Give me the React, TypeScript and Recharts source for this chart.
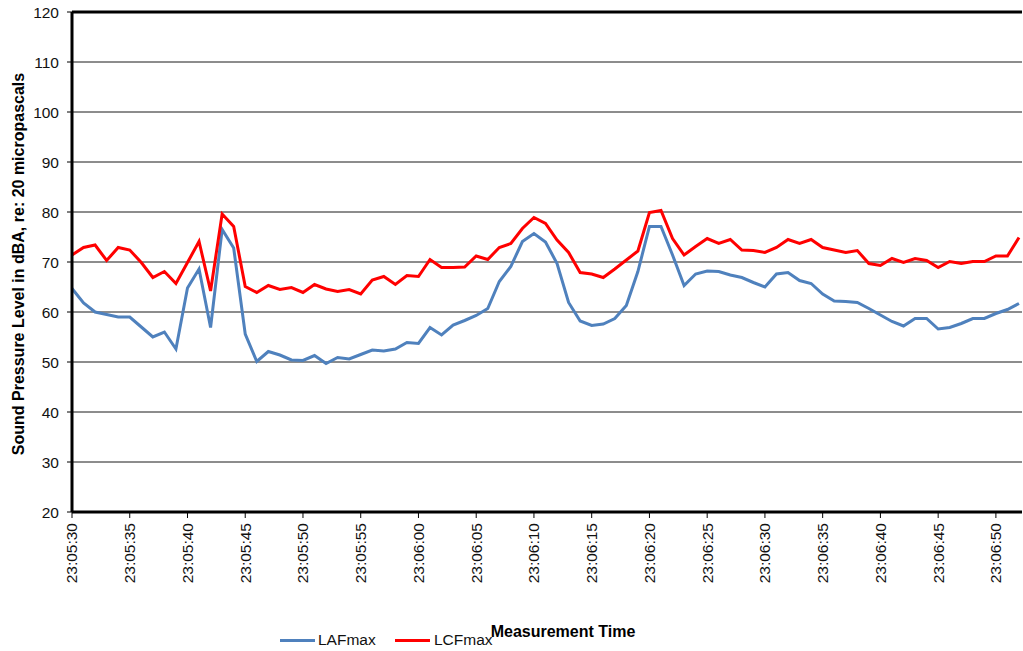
import { LineChart, Line, XAxis, YAxis, CartesianGrid, Legend, ReferenceLine } from 'recharts';

const times = [
  '23:05:30', '23:05:31', '23:05:32', '23:05:33', '23:05:34', '23:05:35', '23:05:36', '23:05:37', '23:05:38', '23:05:39',
  '23:05:40', '23:05:41', '23:05:42', '23:05:43', '23:05:44', '23:05:45', '23:05:46', '23:05:47', '23:05:48', '23:05:49',
  '23:05:50', '23:05:51', '23:05:52', '23:05:53', '23:05:54', '23:05:55', '23:05:56', '23:05:57', '23:05:58', '23:05:59',
  '23:06:00', '23:06:01', '23:06:02', '23:06:03', '23:06:04', '23:06:05', '23:06:06', '23:06:07', '23:06:08', '23:06:09',
  '23:06:10', '23:06:11', '23:06:12', '23:06:13', '23:06:14', '23:06:15', '23:06:16', '23:06:17', '23:06:18', '23:06:19',
  '23:06:20', '23:06:21', '23:06:22', '23:06:23', '23:06:24', '23:06:25', '23:06:26', '23:06:27', '23:06:28', '23:06:29',
  '23:06:30', '23:06:31', '23:06:32', '23:06:33', '23:06:34', '23:06:35', '23:06:36', '23:06:37', '23:06:38', '23:06:39',
  '23:06:40', '23:06:41', '23:06:42', '23:06:43', '23:06:44', '23:06:45', '23:06:46', '23:06:47', '23:06:48', '23:06:49',
  '23:06:50', '23:06:51', '23:06:52',
];

const lafMax = [
  64.7, 61.8, 60.0, 59.5, 59.0, 59.0, 57.0, 55.0, 56.0, 52.6,
  64.8, 68.6, 56.9, 76.5, 72.8, 55.6, 50.1, 52.1, 51.4, 50.4,
  50.3, 51.3, 49.7, 50.9, 50.6, 51.5, 52.4, 52.2, 52.6, 53.9,
  53.7, 56.9, 55.4, 57.4, 58.3, 59.3, 60.7, 66.1, 69.1, 74.1,
  75.7, 74.0, 69.7, 61.9, 58.2, 57.3, 57.6, 58.7, 61.3, 68.1,
  77.1, 77.1, 71.4, 65.3, 67.6, 68.2, 68.1, 67.4, 66.9, 65.9,
  65.0, 67.6, 67.9, 66.3, 65.7, 63.6, 62.2, 62.1, 61.9, 60.7,
  59.4, 58.1, 57.2, 58.7, 58.7, 56.6, 56.9, 57.7, 58.7, 58.7,
  59.7, 60.5, 61.7,
];

const lcfMax = [
  71.4, 72.9, 73.4, 70.3, 72.9, 72.4, 69.9, 66.9, 68.1, 65.7,
  69.9, 74.1, 64.2, 79.6, 77.1, 65.1, 63.9, 65.3, 64.5, 64.9,
  63.9, 65.5, 64.6, 64.1, 64.5, 63.6, 66.4, 67.1, 65.5, 67.3,
  67.1, 70.5, 68.9, 68.9, 69.0, 71.2, 70.5, 72.9, 73.7, 76.7,
  78.9, 77.7, 74.4, 71.9, 67.9, 67.6, 66.9, 68.6, 70.4, 72.2,
  79.9, 80.3, 74.7, 71.4, 73.1, 74.7, 73.7, 74.5, 72.4, 72.3,
  71.9, 72.9, 74.5, 73.7, 74.5, 72.9, 72.4, 71.9, 72.3, 69.7,
  69.3, 70.7, 69.9, 70.7, 70.3, 68.9, 70.1, 69.7, 70.1, 70.1,
  71.2, 71.2, 74.9,
];

const yTicks = [20, 30, 40, 50, 60, 70, 80, 90, 100, 110, 120];

const chartData = times.map((t, i) => ({ time: t, LAFmax: lafMax[i], LCFmax: lcfMax[i] }));

const FONT = '"Liberation Sans", Arial, sans-serif';
const BLUE = '#4F81BD';
const RED = '#FF0000';

function TimeTick({ x, y, payload }: any) {
  return (
    <text
      x={x}
      y={y}
      transform={`rotate(-90, ${x}, ${y})`}
      textAnchor="end"
      dy="0.35em"
      fontSize={15.5}
      fontFamily={FONT}
      fill="#111"
    >
      {payload.value}
    </text>
  );
}

function YTitle() {
  return (
    <text
      x={18}
      y={264}
      transform="rotate(-90, 18, 264)"
      textAnchor="middle"
      dominantBaseline="central"
      fontSize={16}
      fontWeight="bold"
      fontFamily={FONT}
      fill="#000"
    >
      Sound Pressure Level in dBA, re: 20 micropascals
    </text>
  );
}

function XTitle() {
  return (
    <text x={563} y={631} textAnchor="middle" dominantBaseline="central" fontSize={16} fontWeight="bold" fontFamily={FONT} fill="#000">
      Measurement Time
    </text>
  );
}

function LegendBox() {
  const txt = { position: 'absolute' as const, top: 0, lineHeight: '18px', fontSize: 15.5, color: '#111' };
  return (
    <div style={{ height: 18, position: 'relative', fontFamily: FONT }}>
      <span style={{ position: 'absolute', left: 280, top: 8, width: 35, height: 3, background: BLUE }} />
      <span style={{ ...txt, left: 318 }}>LAFmax</span>
      <span style={{ position: 'absolute', left: 395, top: 8, width: 35, height: 3, background: RED }} />
      <span style={{ ...txt, left: 434 }}>LCFmax</span>
    </div>
  );
}

export default function App() {
  return (
    <div style={{ position: 'absolute', left: 0, top: 0, width: 1023, height: 651, background: '#fff' }}>
      <LineChart width={1023} height={651} data={chartData} margin={{ top: 12, right: 1, bottom: 2, left: 0 }}>
        <CartesianGrid vertical={false} stroke="#1a1a1a" strokeWidth={1} />
        <XAxis
          dataKey="time"
          interval={4}
          height={119}
          padding={{ left: 0, right: 3 }}
          tickSize={6}
          tickMargin={5}
          tick={<TimeTick />}
          axisLine={{ stroke: '#000', strokeWidth: 3 }}
          tickLine={{ stroke: '#000', strokeWidth: 1 }}
          label={<XTitle />}
        />
        <YAxis
          domain={[20, 120]}
          ticks={yTicks}
          width={72}
          tickSize={5}
          tickMargin={8}
          allowDataOverflow
          tick={{ fontSize: 15.5, fontFamily: FONT, fill: '#111' }}
          axisLine={{ stroke: '#000', strokeWidth: 3 }}
          tickLine={{ stroke: '#000', strokeWidth: 1 }}
          label={<YTitle />}
        />
        <ReferenceLine y={120} stroke="#000" strokeWidth={3} />
        <Legend verticalAlign="bottom" content={<LegendBox />} />
        <Line
          type="linear"
          dataKey="LAFmax"
          stroke={BLUE}
          strokeWidth={3}
          dot={false}
          isAnimationActive={false}
        />
        <Line
          type="linear"
          dataKey="LCFmax"
          stroke={RED}
          strokeWidth={3}
          dot={false}
          isAnimationActive={false}
        />
      </LineChart>
    </div>
  );
}
